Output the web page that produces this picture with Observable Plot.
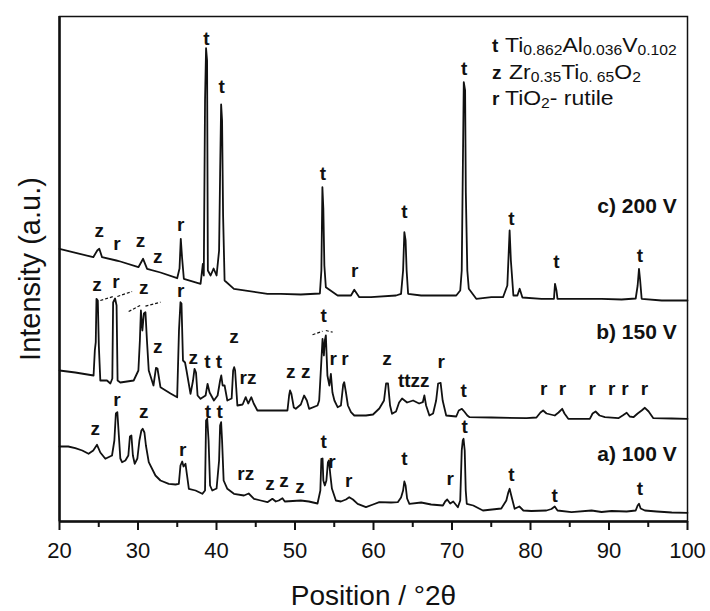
<!DOCTYPE html>
<html>
<head>
<meta charset="utf-8">
<script src="https://cdn.jsdelivr.net/npm/d3@7"></script>
<script src="https://cdn.jsdelivr.net/npm/@observablehq/plot@0.6"></script>
<style>
  html, body { margin: 0; padding: 0; background: #fff; }
  #chart { width: 710px; height: 611px; }
</style>
</head>
<body>
<div id="chart"></div>
<script>
// ---- Data (2θ in degrees, intensity in arbitrary units incl. vertical offset) ----
const trace200 = [[20.0,272.7],[24.30,264.3],[24.81,271],[25.07,272.7],[25.42,264.3],[27.24,261],[27.75,260],[30.05,254.3],[30.65,262.7],[31.16,252.7],[32.86,249],[34.99,243.3],[35.29,253],[35.45,282.7],[35.61,264.3],[35.84,242.7],[37.97,237.7],[38.26,257.7],[38.38,246],[38.54,421],[38.67,473.3],[38.80,461],[38.90,251],[39.25,246],[39.63,253],[40.01,246],[40.33,271],[40.46,348],[40.59,417],[40.71,401],[40.84,306],[41.03,241],[42.22,232.7],[46.49,227.7],[48.19,227.7],[50.74,227],[53.17,228],[53.36,251],[53.49,334.3],[53.61,313],[53.74,256],[53.93,234.3],[55.43,226],[57.13,226],[57.55,231.7],[58.19,224.3],[59.68,224.3],[62.87,226],[63.51,227.7],[63.77,251],[63.93,289.3],[64.09,281],[64.22,251],[64.41,227.7],[66.07,226],[70.54,226],[71.05,231],[71.24,251],[71.50,439.3],[71.67,431],[71.76,329.3],[71.95,251],[72.14,232.7],[73.09,222.7],[75.01,224.3],[76.50,224.3],[77.05,236],[77.34,291],[77.50,261],[77.62,248],[77.82,226],[78.33,226],[78.62,232.7],[78.97,224],[81.39,222.7],[82.99,222.7],[83.12,237.7],[83.31,231],[83.44,222.7],[89.05,222.7],[91.61,222],[93.40,223],[93.65,236],[93.82,252.7],[93.97,241],[94.16,222.7],[96.72,221],[100,221]];

const trace150 = [[20.0,151],[22.01,149],[24.34,146],[24.50,171],[24.62,179.3],[24.71,222.7],[24.88,221],[25.01,176],[25.20,141],[26.05,141],[26.48,138],[26.73,143],[26.83,219],[27.08,223],[27.27,216],[27.40,141],[27.75,139],[29.45,141],[30.05,151],[30.24,181],[30.37,211],[30.56,191],[30.75,208],[30.95,209.3],[31.14,181],[31.37,151],[31.97,136],[32.29,153.7],[32.48,153],[32.86,134.3],[34.14,128],[34.99,124.3],[35.22,191],[35.41,219.3],[35.54,218],[35.73,161],[35.99,159],[36.18,151],[36.69,127.7],[37.01,141],[37.20,152.7],[37.39,149],[37.59,126],[37.97,122.7],[38.61,126],[38.86,137.7],[39.12,129],[39.67,121],[40.14,126],[40.46,141],[40.61,146],[40.78,136],[41.03,136],[41.38,121],[41.93,123],[42.12,151],[42.25,154.3],[42.37,151],[42.66,116],[43.33,117],[43.72,124.3],[44.04,118],[44.44,124.3],[44.74,118],[45.21,111],[46.91,111],[49.04,111],[49.25,126],[49.37,131],[49.53,128],[49.85,114],[50.10,112.7],[50.74,117],[51.16,126],[51.51,121],[51.80,112.7],[52.87,116],[53.08,121],[53.36,161],[53.51,182.7],[53.68,166],[53.80,181],[53.93,186],[54.13,146],[54.38,136],[54.57,147.7],[54.77,129],[55.02,121],[55.43,114.3],[55.85,116],[56.14,137],[56.27,139.3],[56.49,129],[56.74,116],[57.13,109.3],[57.55,106],[59.04,106],[59.94,107],[60.74,113],[61.34,121],[61.60,138],[61.85,138],[62.11,116],[62.36,107.7],[62.87,110],[63.26,119],[63.64,123],[64.28,119],[65.04,121],[65.81,118],[66.28,119.3],[66.48,126],[66.70,116],[67.12,106],[67.59,108],[67.98,121],[68.23,138],[68.55,138.7],[68.81,121],[69.26,106],[70.54,105],[70.86,111],[71.26,112.7],[71.56,110],[71.95,106],[72.24,104.3],[75.01,104],[79.48,103.3],[80.76,104],[81.27,109],[81.61,111],[82.04,108],[83.09,106],[83.57,109],[84.04,112.7],[84.33,108],[84.81,102.7],[87.56,102.7],[87.91,108],[88.29,110],[88.80,106],[89.48,104.3],[91.19,103.3],[91.74,106],[92.25,108.7],[92.64,105],[93.11,104.3],[93.65,108],[94.16,111],[94.57,113.7],[95.05,110],[95.65,103.3],[97.99,103],[100,102.7]];

const trace100 = [[20.0,75],[21.11,75],[22.01,73.3],[22.90,71],[23.70,67.7],[24.30,71],[24.78,76.7],[25.20,69],[25.84,62.7],[26.69,66],[26.99,81],[27.18,108],[27.37,109.3],[27.56,86],[27.75,63],[27.97,59.3],[28.39,61],[28.77,66],[28.97,85],[29.16,86],[29.35,66],[29.58,57.7],[29.92,63],[30.18,81],[30.43,91],[30.60,92.7],[30.82,89],[31.01,76],[31.37,59.3],[32.22,46],[32.86,41],[33.92,37.7],[34.78,37],[35.20,37.7],[35.41,56],[35.63,60],[35.80,55],[36.05,57.7],[36.25,46],[36.48,32.7],[37.33,31],[38.19,27.7],[38.54,31],[38.67,101],[38.82,102.7],[38.99,81],[39.18,36],[39.46,31],[40.01,33],[40.33,61],[40.46,96],[40.59,99.3],[40.71,81],[40.91,41],[41.38,32.7],[42.22,27.7],[43.50,26],[44.10,28],[44.78,22.7],[45.63,21],[46.49,19.3],[47.12,22.7],[47.55,20],[47.93,21],[48.40,23.3],[48.70,20],[50.74,21],[51.76,20],[52.87,18],[53.23,31],[53.36,62.7],[53.51,63],[53.61,41],[53.80,36],[54.00,41],[54.19,59],[54.32,61],[54.51,46],[54.70,33],[55.21,21],[55.85,20],[56.49,22],[56.91,24.3],[57.38,22],[57.98,17.7],[59.04,14.3],[59.94,17],[60.74,19.3],[62.24,19],[63.09,19.3],[63.51,24],[63.77,31],[63.93,40],[64.09,36],[64.28,23],[64.57,17.7],[66.07,19],[67.34,17],[68.84,16],[69.13,20],[69.39,22],[69.77,18],[70.16,20],[70.75,14.3],[71.05,21],[71.24,71],[71.37,81],[71.47,82.7],[71.62,71],[71.75,31],[71.88,17.7],[72.71,16],[73.94,11],[76.28,13],[76.92,21],[77.17,29],[77.34,32.7],[77.55,26],[77.98,12.7],[78.58,15],[79.09,11],[80.11,10.5],[82.03,11],[82.67,12.5],[83.09,15],[83.44,11],[85.22,9.3],[87.78,11],[89.05,9.5],[90.33,10.5],[92.25,10],[93.40,11],[93.65,16],[93.82,17.7],[94.03,13],[94.57,11],[96.07,10],[97.99,9],[100,8.7]];

// Phase labels: [2θ, intensity, text]
const labels200 = [[38.70,483,"t"],[40.65,434.3,"t"],[53.55,347.7,"t"],[57.59,251,"r"],[25.07,291,"z"],[27.33,277.7,"r"],[30.31,281,"z"],[32.52,264.3,"z"],[35.45,297,"r"],[71.56,452.7,"t"],[63.93,309.3,"t"],[77.56,302.7,"t"],[83.31,259.3,"t"],[93.95,266,"t"]];
const labels150 = [[24.78,236.7,"z"],[27.20,239.3,"r"],[30.73,233.3,"z"],[32.52,174.3,"z"],[35.45,231,"r"],[37.04,163.7,"z"],[38.83,159.3,"t"],[40.31,159.3,"t"],[42.22,184.3,"z"],[44.01,143.7,"rz"],[49.46,149.3,"z"],[51.38,149.3,"z"],[53.64,206,"t"],[54.87,162.7,"r"],[56.36,162.7,"r"],[61.72,162.7,"z"],[65.13,141,"ttzz"],[68.62,159.3,"r"],[71.47,131,"t"],[81.69,132.7,"r"],[84.07,132.7,"r"],[87.87,132.7,"r"],[90.33,132.7,"r"],[92.03,132.7,"r"],[94.51,132.7,"r"]];
const labels100 = [[24.56,92.7,"z"],[27.33,121.7,"r"],[30.73,109.3,"z"],[35.71,71.7,"r"],[38.90,109.3,"t"],[40.40,109.3,"t"],[43.72,47.7,"rz"],[46.82,37.7,"z"],[48.61,40.3,"z"],[50.65,34.3,"z"],[53.64,79.3,"t"],[54.70,59.3,"r"],[56.83,41,"r"],[63.93,62.7,"t"],[69.77,42.7,"r"],[71.60,94.3,"t"],[77.56,47,"t"],[83.09,26,"t"],[93.95,32.7,"t"]];

// Dashed leader lines over truncated peaks (150 V): [x1, y1, x2, y2]
const carets = [[25.20,221,26.86,225],[27.37,225,29.25,230],[28.81,210,30.43,216.7],[30.95,215.3,32.86,219.3],[52.23,186.7,53.51,190.3],[53.93,191,54.79,189.3]];

// Sample labels
const sampleLabels = [[98.63,315,"c) 200 V"],[98.63,189.3,"b) 150 V"],[98.63,67.7,"a) 100 V"]];

// Axis ticks
const xTicks = [20,30,40,50,60,70,80,90,100];
const xMinorTicks = [25,35,45,55,65,75,85,95];

// Legend
const legendKeys = ["t","z","r"];
const legendFormulas = [
  [["Ti",0],["0.862",1],["Al",0],["0.036",1],["V",0],["0.102",1]],
  [["Zr",0],["0.35",1],["Ti",0],["0. 65",1],["O",0],["2",1]],
  [["TiO",0],["2",1],["- rutile",0]]
];

const FONT = "'Liberation Sans', Arial, Helvetica, sans-serif";
const lineOpts = {x: d => d[0], y: d => d[1], stroke: "#111", strokeWidth: 1.8, strokeLinejoin: "round"};
const lblOpts = {x: d => d[0], y: d => d[1], text: d => d[2], fontWeight: "bold", fontSize: 19, fill: "#111"};

const chart = Plot.plot({
  width: 710,
  height: 611,
  marginLeft: 59,
  marginRight: 23,
  marginTop: 16,
  marginBottom: 90,
  style: {fontFamily: FONT, fontSize: "22px", background: "#fff", color: "#111"},
  x: {domain: [20, 100]},
  y: {domain: [0, 505], axis: null},
  marks: [
    Plot.line(trace200, lineOpts),
    Plot.line(trace150, lineOpts),
    Plot.line(trace100, lineOpts),
    Plot.link(carets, {x1: d => d[0], y1: d => d[1], x2: d => d[2], y2: d => d[3], stroke: "#111", strokeWidth: 1.2, strokeDasharray: "3,2"}),
    Plot.text(labels200, lblOpts),
    Plot.text(labels150, lblOpts),
    Plot.text(labels100, lblOpts),
    Plot.text(sampleLabels, {x: d => d[0], y: d => d[1], text: d => d[2], textAnchor: "end", fontWeight: "bold", fontSize: 21, fill: "#111"}),
    Plot.frame({stroke: "#111", strokeWidth: 1.5}),
    Plot.ruleX([20], {stroke: "#111", strokeWidth: 2.5}),
    Plot.ruleY([0], {stroke: "#111", strokeWidth: 2.5}),
    Plot.axisX(xTicks, {tickSize: 9, tickPadding: 12, strokeWidth: 2, stroke: "#111", fill: "#111", label: null, fontSize: 22}),
    Plot.axisX(xMinorTicks, {tickSize: 6, strokeWidth: 2, stroke: "#111", tickFormat: () => "", label: null}),
    Plot.text(["Position / °2θ"], {frameAnchor: "bottom", textAnchor: "middle", lineAnchor: "middle", dy: 75, fontSize: 28, fill: "#111"}),
    Plot.text(["Intensity (a.u.)"], {frameAnchor: "left", textAnchor: "middle", lineAnchor: "middle", rotate: -90, dx: -29, fontSize: 29, fill: "#111"})
  ]
});

document.getElementById("chart").appendChild(chart);

// Legend (rich text with subscripts)
const svg = d3.select(chart);
const lg = svg.append("g").attr("font-family", FONT).attr("fill", "#111").attr("text-anchor", "start");
const rowBaselines = [52, 79, 105];
const rowStarts = [505, 509, 505];
legendKeys.forEach((k, i) => {
  lg.append("text").attr("x", 492).attr("y", rowBaselines[i]).attr("text-anchor", "start")
    .attr("font-size", 19).attr("font-weight", "bold").text(k);
  const t = lg.append("text").attr("text-anchor", "start")
    .attr("transform", `translate(${rowStarts[i]},${rowBaselines[i]}) scale(1.12,1)`)
    .attr("font-size", 20.5);
  let sub = false;
  legendFormulas[i].forEach(([s, isSub]) => {
    const ts = t.append("tspan").text(s);
    if (isSub && !sub) { ts.attr("dy", 3).attr("font-size", 14); sub = true; }
    else if (isSub) { ts.attr("font-size", 14); }
    else if (!isSub && sub) { ts.attr("dy", -3); sub = false; }
  });
});
</script>
</body>
</html>
